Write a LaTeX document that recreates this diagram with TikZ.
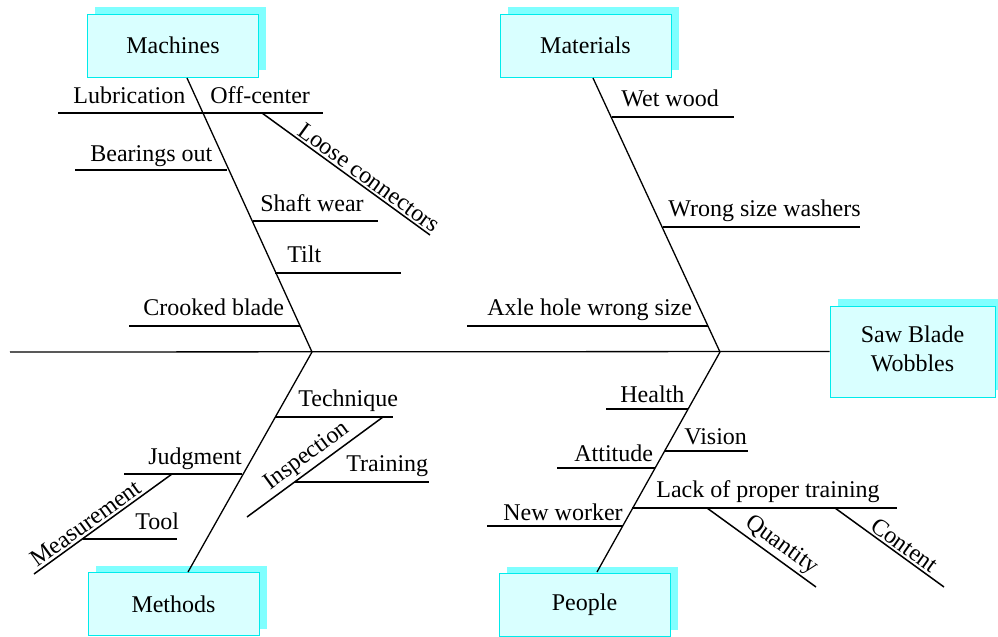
\documentclass[tikz,border=0pt]{standalone}
\usepackage{fontspec}
\setmainfont{Liberation Serif}
\usetikzlibrary{shadows}
\definecolor{boxfill}{RGB}{217,255,255}
\definecolor{boxedge}{RGB}{0,235,235}
\definecolor{boxshade}{RGB}{128,255,255}
\begin{document}
\begin{tikzpicture}[x=0.5pt,y=-0.5pt,
  every node/.style={font=\fontsize{12}{14.5}\selectfont},
  catbox/.style={draw=boxedge, line width=0.5pt, fill=boxfill,
    minimum width=85.5pt, minimum height=31.5pt, inner sep=0pt,
    general shadow={fill=boxshade, shadow xshift=3.8pt, shadow yshift=3.3pt}},
  bone/.style={line width=0.65pt},
  rib/.style={line width=0.75pt},
  lbl/.style={anchor=base west, inner sep=0pt},
  tilted/.style={sloped, above, inner sep=1pt}
]
\useasboundingbox (0,0) rectangle (998,637);

% category boxes and the effect box
\node[catbox] (mach) at (173,45.5) {Machines};
\node[catbox] (matl) at (585.5,45.5) {Materials};
\node[catbox] (meth) at (173.5,604) {Methods};
\node[catbox] (peop) at (584.5,605) {People};
\node[catbox, minimum width=82.5pt, minimum height=45.5pt]
  (effect) at (912.5,351.5)
  {\raisebox{-1.5pt}{\begin{tabular}{@{}c@{}}Saw Blade\\Wobbles\end{tabular}}};

% spine and main bones
\coordinate (tail) at (10,352);
\coordinate (j1) at (312,352);
\coordinate (j2) at (720,352);
\coordinate (machtop) at (187,78);
\coordinate (matltop) at (593,78);
\coordinate (methbot) at (188,572);
\coordinate (peopbot) at (597,572);
\draw[bone] (tail) -- (effect.west);
\draw[bone] (machtop) -- (j1) -- (methbot);
\draw[bone] (matltop) -- (j2) -- (peopbot);

% Machines
\coordinate (lubA) at (58,113);   \coordinate (lubB) at (323,113);
\coordinate (lcA) at (262,113);   \coordinate (lcB) at (430,235);
\coordinate (brA) at (75,170);    \coordinate (brB) at (227,170);
\coordinate (swA) at (253,221);   \coordinate (swB) at (378,221);
\coordinate (tiA) at (275,273);   \coordinate (tiB) at (401,273);
\coordinate (cbA) at (129,326);   \coordinate (cbB) at (300,326);
\draw[rib] (lubA) -- (lubB);
\draw[rib] (lcA) -- node[tilted, pos=0.6] {Loose connectors} (lcB);
\draw[rib] (brA) -- (brB);
\draw[rib] (swA) -- (swB);
\draw[rib] (tiA) -- (tiB);
\draw[rib] (cbA) -- (cbB);
\node[lbl] (t-lub) at (73,104) {Lubrication};
\node[lbl] (t-off) at (210,104) {Off-center};
\node[lbl] (t-bear) at (90,161) {Bearings out};
\node[lbl] (t-shaft) at (260,211) {Shaft wear};
\node[lbl] (t-tilt) at (287,262) {Tilt};
\node[lbl] (t-crook) at (143,315) {Crooked blade};

% Materials
\coordinate (wwA) at (612,117);   \coordinate (wwB) at (734,117);
\coordinate (wsA) at (663,227);   \coordinate (wsB) at (860,227);
\coordinate (ahA) at (467,326);   \coordinate (ahB) at (708,326);
\draw[rib] (wwA) -- (wwB);
\draw[rib] (wsA) -- (wsB);
\draw[rib] (ahA) -- (ahB);
\node[lbl] (t-wet) at (621,106) {Wet wood};
\node[lbl] (t-wash) at (668,216) {Wrong size washers};
\node[lbl] (t-axle) at (487,315) {Axle hole wrong size};

% Methods
\coordinate (teA) at (275,417);   \coordinate (teB) at (393,417);
\coordinate (inA) at (247,517);   \coordinate (inB) at (383,417);
\coordinate (trA) at (295,482);   \coordinate (trB) at (429,482);
\coordinate (juA) at (124,474);   \coordinate (juB) at (242,474);
\coordinate (meA) at (34,574);    \coordinate (meB) at (172,474);
\coordinate (toA) at (83,539);    \coordinate (toB) at (177,539);
\draw[rib] (teA) -- (teB);
\draw[rib] (inA) -- node[tilted, pos=0.5] {Inspection} (inB);
\draw[rib] (trA) -- (trB);
\draw[rib] (juA) -- (juB);
\draw[rib] (meA) -- node[tilted, pos=0.42] {Measurement} (meB);
\draw[rib] (toA) -- (toB);
\node[lbl] (t-tech) at (298,406) {Technique};
\node[lbl] (t-train) at (346,471) {Training};
\node[lbl] (t-judg) at (148,464) {Judgment};
\node[lbl] (t-tool) at (135,529) {Tool};

% People
\coordinate (heA) at (606,409);   \coordinate (heB) at (688,409);
\coordinate (viA) at (665,451);   \coordinate (viB) at (748,451);
\coordinate (atA) at (557,468);   \coordinate (atB) at (655,468);
\coordinate (lpA) at (632,508);   \coordinate (lpB) at (897,508);
\coordinate (nwA) at (487,526);   \coordinate (nwB) at (623,526);
\coordinate (quA) at (707,508);   \coordinate (quB) at (816,587);
\coordinate (coA) at (835,508);   \coordinate (coB) at (944,587);
\draw[rib] (heA) -- (heB);
\draw[rib] (viA) -- (viB);
\draw[rib] (atA) -- (atB);
\draw[rib] (lpA) -- (lpB);
\draw[rib] (nwA) -- (nwB);
\draw[rib] (quA) -- node[tilted, pos=0.61] {Quantity} (quB);
\draw[rib] (coA) -- node[tilted, pos=0.58] {Content} (coB);
\node[lbl] (t-health) at (620,402) {Health};
\node[lbl] (t-vision) at (684,444) {Vision};
\node[lbl] (t-att) at (574,461) {Attitude};
\node[lbl] (t-lack) at (656,497) {Lack of proper training};
\node[lbl] (t-new) at (503,520) {New worker};
\end{tikzpicture}
\end{document}
